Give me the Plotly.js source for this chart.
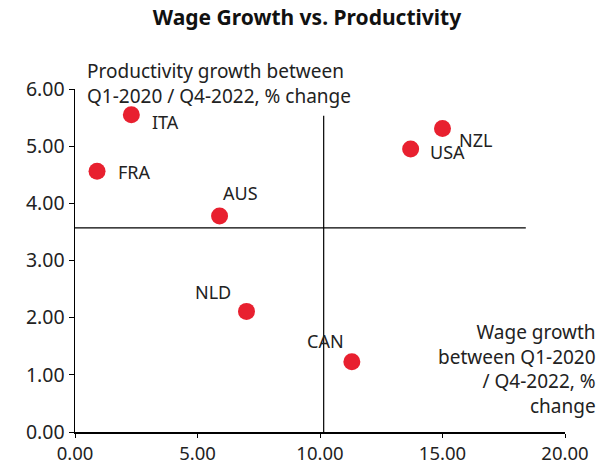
<!DOCTYPE html>
<html>
<head>
<meta charset="utf-8">
<script src="https://cdn.plot.ly/plotly-3.0.1.min.js"></script>
<style>html,body{margin:0;padding:0;background:#fff;}#chart{width:614px;height:467px;}</style>
</head>
<body>
<div id="chart"></div>
<script>
// Data
const countries = ["ITA", "FRA", "AUS", "NLD", "CAN", "USA", "NZL"];
const wageGrowth = [2.3, 0.9, 5.9, 7.0, 11.3, 13.7, 15.0];
const productivityGrowth = [5.55, 4.56, 3.78, 2.11, 1.23, 4.95, 5.31];
const vLineX = [10.15, 10.15];
const vLineY = [0, 5.53];
const hLineX = [0, 18.4];
const hLineY = [3.57, 3.57];
const xTicks = [0, 5, 10, 15, 20];
const yTicks = [0, 1, 2, 3, 4, 5, 6];

// Label placement styles (pixel offsets relative to each marker)
const labelStyle = {
  ITA: {xanchor: "left", xshift: 19, yshift: -7},
  FRA: {xanchor: "left", xshift: 19, yshift: -1},
  AUS: {xanchor: "left", xshift: 1, yshift: 23},
  NLD: {xanchor: "right", xshift: -14, yshift: 19},
  CAN: {xanchor: "right", xshift: -6, yshift: 21},
  USA: {xanchor: "left", xshift: 17, yshift: -3},
  NZL: {xanchor: "left", xshift: 14, yshift: -12}
};

const font = "Noto Sans, Open Sans, sans-serif";
const dark = "#222";

const traces = [
  {x: vLineX, y: vLineY, mode: "lines", line: {color: "#000", width: 1.2}, hoverinfo: "skip", showlegend: false},
  {x: hLineX, y: hLineY, mode: "lines", line: {color: "#000", width: 1.2}, hoverinfo: "skip", showlegend: false},
  {
    x: wageGrowth, y: productivityGrowth, text: countries,
    mode: "markers",
    marker: {color: "#e8202f", size: 17},
    cliponaxis: false, showlegend: false
  }
];

const pointLabels = countries.map((c, i) => Object.assign({
  x: wageGrowth[i], y: productivityGrowth[i], xref: "x", yref: "y", text: c,
  showarrow: false, yanchor: "middle",
  font: {family: font, size: 18, color: dark}
}, labelStyle[c]));

const layout = {
  width: 614, height: 467,
  margin: {l: 75, r: 49, t: 89, b: 35},
  paper_bgcolor: "#fff", plot_bgcolor: "#fff",
  font: {family: font, color: dark, size: 18},
  title: {text: "<b>Wage Growth vs. Productivity</b>", x: 0.5, xanchor: "center", y: 0.978, yanchor: "top",
          font: {family: font, size: 21, color: "#111"}},
  xaxis: {range: [0, 20], tickvals: xTicks, tickformat: ".2f", showgrid: false, zeroline: false,
          showline: true, linecolor: "#000", linewidth: 1.5, ticks: "outside", ticklen: 4, tickcolor: "#000",
          tickfont: {family: font, size: 18.5, color: dark}},
  yaxis: {range: [0, 6], tickvals: yTicks, tickformat: ".2f", showgrid: false, zeroline: false,
          showline: true, linecolor: "#000", linewidth: 1.5, ticks: "outside", ticklen: 5, tickcolor: "#000",
          tickfont: {family: font, size: 19.5, color: dark}},
  annotations: pointLabels.concat([
    {text: "Productivity growth between<br>Q1-2020 / Q4-2022, % change", xref: "paper", yref: "paper",
     x: 0.02, y: 1.095, xanchor: "left", yanchor: "top", align: "left", showarrow: false,
     font: {family: font, size: 19, color: dark}},
    {text: "Wage growth<br>between Q1-2020<br>/ Q4-2022, %<br>change", xref: "paper", yref: "paper",
     x: 1.068, y: 0.335, xanchor: "right", yanchor: "top", align: "right", showarrow: false,
     font: {family: font, size: 19, color: dark}}
  ])
};

Plotly.newPlot("chart", traces, layout, {displayModeBar: false, staticPlot: true});
</script>
</body>
</html>
